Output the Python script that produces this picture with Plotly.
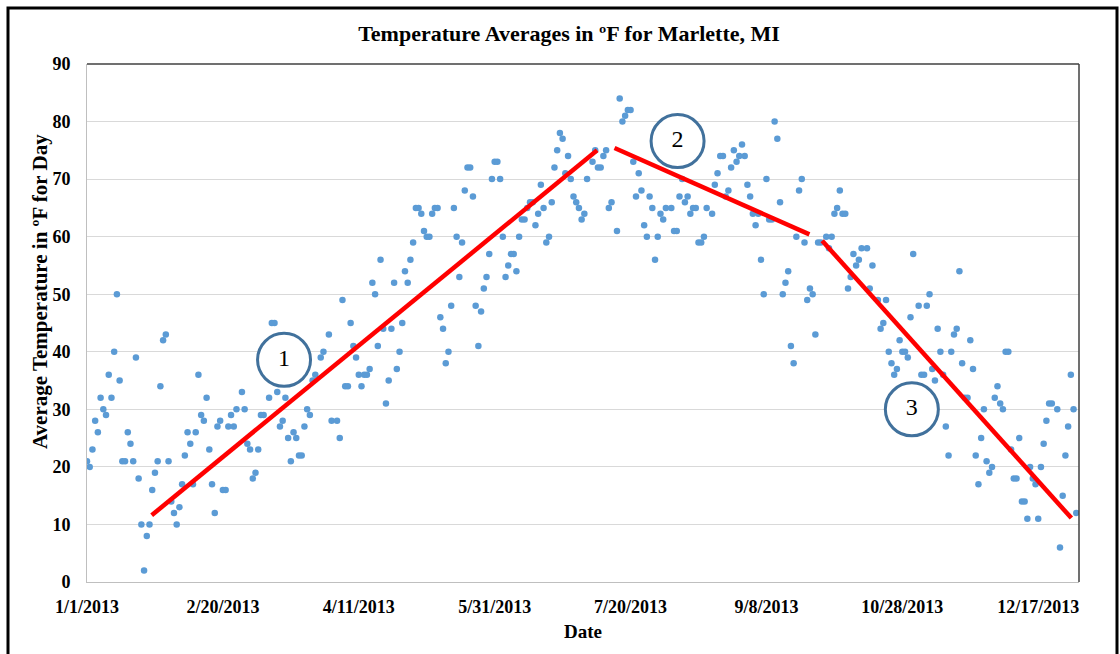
import pandas as pd
import plotly.graph_objects as go

# === Data: day offset from 1/1/2013 and avg temperature (F) ===
day_offset = [
    0, 1, 2, 3, 4, 5, 6, 7, 8, 9, 10, 11, 12, 13, 14, 15, 16, 17, 18, 19,
    20, 21, 22, 23, 24, 25, 26, 27, 28, 29, 30, 31, 32, 33, 34, 35, 36, 37, 38, 39,
    40, 41, 42, 43, 44, 45, 46, 47, 48, 49, 50, 51, 52, 53, 54, 55, 57, 58, 59, 60,
    61, 62, 63, 64, 65, 67, 68, 69, 70, 71, 72, 73, 74, 75, 76, 77, 78, 79, 80, 81,
    82, 83, 84, 86, 87, 89, 90, 92, 93, 94, 95, 96, 97, 98, 99, 100, 101, 102, 103, 104,
    105, 106, 107, 108, 109, 110, 111, 112, 113, 114, 115, 116, 117, 118, 119, 120, 121, 122, 123, 124,
    125, 126, 127, 128, 129, 130, 131, 132, 133, 134, 135, 136, 137, 138, 139, 140, 141, 142, 143, 144,
    145, 146, 147, 148, 149, 150, 151, 152, 153, 154, 155, 156, 157, 158, 159, 160, 161, 162, 163, 164,
    165, 166, 167, 168, 169, 170, 171, 172, 173, 174, 175, 176, 177, 178, 179, 180, 181, 182, 183, 184,
    186, 187, 188, 189, 190, 191, 192, 193, 195, 196, 197, 198, 199, 200, 201, 202, 203, 204, 205, 206,
    207, 208, 209, 210, 211, 212, 213, 215, 216, 217, 218, 219, 220, 221, 222, 223, 224, 225, 226, 227,
    228, 230, 231, 232, 233, 234, 235, 236, 237, 238, 239, 240, 241, 242, 243, 244, 245, 246, 247, 248,
    249, 250, 251, 252, 253, 254, 255, 256, 257, 258, 259, 260, 261, 262, 263, 264, 265, 266, 267, 268,
    269, 270, 272, 273, 274, 275, 276, 277, 278, 279, 280, 281, 282, 283, 284, 285, 287, 288, 289, 291,
    292, 293, 294, 295, 296, 297, 298, 299, 300, 301, 302, 303, 304, 306, 307, 308, 309, 310, 311, 312,
    313, 314, 315, 316, 317, 318, 319, 320, 321, 322, 323, 324, 325, 326, 327, 328, 329, 330, 331, 332,
    333, 334, 335, 336, 337, 338, 339, 340, 341, 342, 343, 344, 345, 346, 347, 348, 349, 350, 351, 352,
    353, 354, 355, 357, 358, 359, 360, 361, 362, 363, 364,
]
avg_temp = [
    21, 20, 23, 28, 26, 32, 30, 29, 36, 32, 40, 50, 35, 21, 21, 26, 24, 21, 39, 18,
    10, 2, 8, 10, 16, 19, 21, 34, 42, 43, 21, 14, 12, 10, 13, 17, 22, 26, 24, 17,
    26, 36, 29, 28, 32, 23, 17, 12, 27, 28, 16, 16, 27, 29, 27, 30, 33, 30, 24, 23,
    18, 19, 23, 29, 29, 32, 45, 45, 33, 27, 28, 32, 25, 21, 26, 25, 22, 22, 27, 30,
    29, 35, 36, 39, 40, 43, 28, 28, 25, 49, 34, 34, 45, 41, 39, 36, 34, 36, 36, 37,
    52, 50, 41, 56, 44, 31, 35, 44, 52, 37, 40, 45, 54, 52, 56, 59, 65, 65, 64, 61,
    60, 60, 64, 65, 65, 46, 44, 38, 40, 48, 65, 60, 53, 59, 68, 72, 72, 67, 48, 41,
    47, 51, 53, 57, 70, 73, 73, 70, 60, 53, 55, 57, 57, 54, 60, 63, 63, 65, 66, 66,
    62, 64, 69, 65, 59, 60, 66, 72, 75, 78, 77, 71, 74, 70, 67, 66, 65, 63, 64, 70,
    73, 75, 72, 72, 74, 75, 65, 66, 61, 84, 80, 81, 82, 82, 73, 67, 71, 68, 62, 60,
    67, 65, 56, 60, 64, 63, 65, 65, 61, 61, 67, 70, 66, 67, 64, 65, 65, 59, 59, 60,
    65, 64, 69, 71, 74, 74, 67, 68, 72, 75, 73, 74, 76, 74, 69, 67, 64, 62, 64, 56,
    50, 70, 63, 63, 80, 77, 66, 50, 52, 54, 41, 38, 60, 68, 70, 59, 49, 51, 50, 43,
    59, 59, 60, 58, 60, 64, 65, 68, 64, 64, 51, 53, 57, 55, 56, 58, 58, 51, 55, 49,
    44, 45, 49, 40, 38, 36, 37, 42, 40, 40, 39, 46, 57, 48, 36, 36, 48, 50, 37, 35,
    44, 40, 36, 27, 22, 40, 43, 44, 54, 38, 32, 32, 42, 37, 22, 17, 25, 30, 21, 19,
    20, 32, 34, 31, 30, 40, 40, 23, 18, 18, 25, 14, 14, 11, 20, 18, 17, 11, 20, 24,
    28, 31, 31, 30, 6, 15, 22, 27, 36, 30, 12, 13,
]

tick_labels = ['1/1/2013', '2/20/2013', '4/11/2013', '5/31/2013',
               '7/20/2013', '9/8/2013', '10/28/2013', '12/17/2013']

# hand-drawn trend segments (start day, start temp, end day, end temp)
trend_start_day = [23.8, 194.1, 270.5]
trend_start_temp = [11.6, 75.4, 59.3]
trend_end_day = [187.7, 265.8, 362.2]
trend_end_temp = [75.0, 60.4, 11.1]

# numbered circle call-outs
callout_text = ['1', '2', '3']
callout_day = [72.5, 217.3, 303.5]
callout_temp = [38.6, 76.6, 30.0]

# === Build figure ===
start = pd.Timestamp('2013-01-01')
to_date = lambda d: start + pd.to_timedelta(d, unit='D')

dates = to_date(pd.Series(day_offset, dtype=float))
tick_dates = pd.to_datetime(tick_labels, format='%m/%d/%Y')

SERIF = 'Liberation Serif, Times New Roman, serif'

fig = go.Figure()

fig.add_trace(go.Scatter(
    x=dates, y=avg_temp, mode='markers',
    marker=dict(color='#5B9BD5', size=6.5, line=dict(width=0)),
    showlegend=False, hoverinfo='x+y',
))

for sd, st, ed, et in zip(trend_start_day, trend_start_temp, trend_end_day, trend_end_temp):
    fig.add_trace(go.Scatter(
        x=[to_date(sd), to_date(ed)], y=[st, et], mode='lines',
        line=dict(color='#FF0000', width=4.5),
        showlegend=False, hoverinfo='skip',
    ))

fig.add_trace(go.Scatter(
    x=[to_date(d) for d in callout_day], y=callout_temp,
    mode='markers+text', text=callout_text, textposition='middle center',
    textfont=dict(family=SERIF, size=24, color='black'),
    marker=dict(symbol='circle', size=53, color='white',
                line=dict(color='#41719C', width=3)),
    showlegend=False, hoverinfo='skip',
))

L, R, T, B = 87, 41, 64, 72
W, H = 1120, 654
pw, ph = W - L - R, H - T - B
px = lambda x: (x - L) / pw          # pixel -> paper x
py = lambda y: (H - B - y) / ph      # pixel -> paper y

fig.update_layout(
    width=W, height=H,
    margin=dict(l=L, r=R, t=T, b=B),
    paper_bgcolor='white', plot_bgcolor='white',
    title=dict(text='Temperature Averages in ºF for Marlette, MI',
               x=569 / W, xanchor='center', y=1 - 33 / H, yanchor='middle',
               font=dict(family=SERIF, size=22, color='black', weight='bold')),
    font=dict(family=SERIF, color='black'),
    xaxis=dict(
        type='date', range=[start, to_date(365)],
        tickvals=tick_dates, ticktext=tick_labels,
        showgrid=False, zeroline=False,
        showline=True, linecolor='#BFBFBF', linewidth=1,
        ticks='', ticklabelstandoff=8,
        tickfont=dict(family=SERIF, size=18, color='black', weight='bold'),
    ),
    yaxis=dict(
        range=[0, 90], dtick=10, tick0=0,
        showgrid=True, gridcolor='#D9D9D9', gridwidth=1,
        zeroline=False, showline=True, linecolor='#BFBFBF', linewidth=1,
        ticks='', ticklabelstandoff=12,
        tickfont=dict(family=SERIF, size=18, color='black', weight='bold'),
    ),
    annotations=[
        dict(text='Date', xref='paper', yref='paper', x=px(583), y=py(631),
             xanchor='center', yanchor='middle', showarrow=False,
             font=dict(family=SERIF, size=19, color='black', weight='bold')),
        dict(text='Average Temperature in ºF for Day', xref='paper', yref='paper',
             x=px(40), y=py(292), textangle=-90,
             xanchor='center', yanchor='middle', showarrow=False,
             font=dict(family=SERIF, size=21, color='black', weight='bold')),
    ],
    shapes=[
        # dark top/right edge of the plot area
        dict(type='line', xref='paper', yref='paper', x0=0, x1=1, y0=1, y1=1,
             line=dict(color='#404040', width=1.5)),
        dict(type='line', xref='paper', yref='paper', x0=1, x1=1, y0=0, y1=1,
             line=dict(color='#404040', width=1.5)),
        # outer black frame
        dict(type='rect', xref='paper', yref='paper',
             x0=px(8), x1=px(1117), y0=py(700), y1=py(8),
             line=dict(color='black', width=3), layer='above'),
    ],
)

# page body has a default 8px margin; drop it so the figure sits at (0, 0)
fig.write_html("out.html", config={'displayModeBar': False},
               post_script="document.body.style.margin = '0';")
